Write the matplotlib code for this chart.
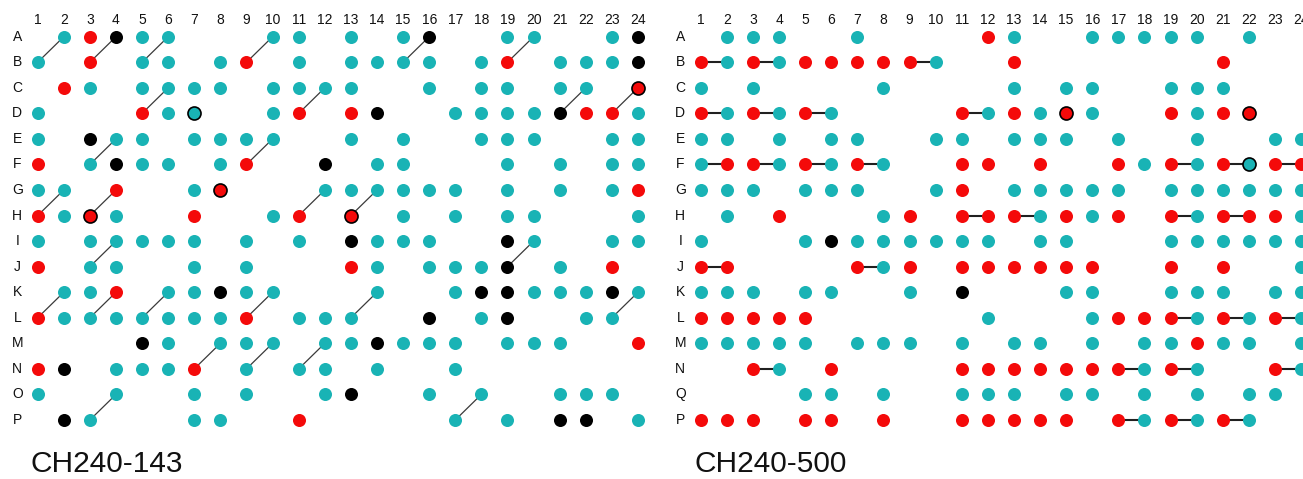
import matplotlib
matplotlib.use("Agg")
import matplotlib.pyplot as plt

# ---------------- data ----------------
columns = [str(c) for c in range(1, 25)]
rows_left = list("ABCDEFGHIJKLMNOP")
rows_right = list("ABCDEFGHIJKLMN") + ["Q", "P"]

# t = teal, r = red, k = black, upper case = outlined dot, '.' = empty
grid_left = [
    ".trktt...tt.t.tk..tt..tk",  # A
    "t.r.tt.tr.t.tttt.tr.tttk",  # B
    ".rt.tttt.tttt..t.tt.tt.R",  # C
    "t...rtT..tr.rk..ttttkrrt",  # D
    "t.ktt.tttt..t.t..ttt..tt",  # E
    "r.tktt.tr..k.tt...t.t.tt",  # F
    "tt.r..tR...tttttt.t.t.tr",  # G
    "rtRt..r..tr.R.t.t.tt...t",  # H
    "t.ttttt.t.t.kttt..kt..tt",  # I
    "r.tt..t.t...rt.tttk.t.r.",  # J
    ".ttr.ttktt...t..tkktttkt",  # K
    "rtttttttr.ttt..k.tk..tt.",  # L
    "....kt.ttt.ttkttt.ttt..r",  # M
    "rk.tttr.t.tt.t..t.......",  # N
    "t..t..t.t..tk..t.t..ttt.",  # O
    ".kt...tt..r.....t.t.kk.t",  # P
]

grid_right = [
    ".ttt..t....rt..ttttt.t..",  # A
    "rtrtrrrrrt..r.......r...",  # B
    "t.t....t....t.tt..ttt...",  # C
    "rtrtrt....rtrtRt..rtrR..",  # D
    "tt.t.tt..tt.ttt.t..t..tt",  # E
    "trrtrtrt..rr.r..rtrtrTrr",  # F
    "ttt.ttt..tr.ttttt.tttttt",  # G
    ".t.r...tr.rrrtrtr.rtrrrt",  # H
    "t...tktttttt.tt...tttttt",  # I
    "rr....rtr.rrrrrr..r.r..t",  # J
    "ttt.tt..t.k...tt..ttt.tt",  # K
    "rrrrr......t...trrrtrtrt",  # L
    "ttttt.ttt.t.tt.t.ttrtt.t",  # M
    "..rt.r....rrrrrrrtrt..rt",  # N
    "....tt.t..ttt.tt.t.t.tt.",  # Q
    "rrr.rr.r..rrrrr.rtrtrt..",  # P
]

# left panel: diagonal links (lower row, col) -> (row above, col + 1)
links_left = ["B1", "B3", "B5", "B9", "B15", "B19", "D5", "D11", "D21", "D23",
              "F3", "F9", "H1", "H3", "H11", "H13", "J3", "J19",
              "L1", "L3", "L5", "L9", "L13", "L23", "N7", "N9", "N11",
              "P3", "P17"]
# right panel: horizontal links (row, col) -> (row, col + 1)
links_right = ["B1", "B3", "B9", "D1", "D3", "D5", "D11",
               "F1", "F3", "F5", "F7", "F19", "F21", "F23",
               "H11", "H13", "H19", "H21", "J1", "J7",
               "L19", "L21", "L23", "N3", "N17", "N19", "N23",
               "P17", "P19", "P21"]

titles = ["CH240-143", "CH240-500"]

# ---------------- style ----------------
COLORS = {"t": "#19B3B5", "r": "#F40A0A", "k": "#000000"}
FONT = ["Liberation Sans", "DejaVu Sans"]
W, H = 1303, 479
col_px = 26.1
row_px = 25.55

fig = plt.figure(figsize=(W / 100, H / 100), dpi=100)
fig.patch.set_facecolor("white")


def make_axes(first_col_x):
    x0 = first_col_x - col_px
    y0 = 36.7 - row_px
    w = 25 * col_px
    h = 17 * row_px
    ax = fig.add_axes([x0 / W, 1 - (y0 + h) / H, w / W, h / H])
    ax.set_xlim(0, 25)
    ax.set_ylim(17, 0)
    ax.axis("off")
    return ax


def draw_panel(ax, grid, row_labels, links, diagonal):
    rowidx = {r: i + 1 for i, r in enumerate(row_labels)}
    # links
    for lk in links:
        r = rowidx[lk[0]]
        c = int(lk[1:])
        if diagonal:
            ax.plot([c, c + 1], [r, r - 1], color="#3a3a3a", lw=0.9,
                    zorder=1, solid_capstyle="butt")
        else:
            ax.plot([c, c + 1], [r, r], color="#202020", lw=1.5,
                    zorder=1, solid_capstyle="butt")
    # dots
    for key, col in COLORS.items():
        xs, ys, xo, yo = [], [], [], []
        for i, line in enumerate(grid):
            for j, ch in enumerate(line):
                if ch == key:
                    xs.append(j + 1); ys.append(i + 1)
                elif ch == key.upper():
                    xo.append(j + 1); yo.append(i + 1)
        ax.scatter(xs, ys, s=88, c=col, linewidths=0, zorder=3)
        if xo:
            ax.scatter(xo, yo, s=88, c=col, edgecolors="black",
                       linewidths=1.2, zorder=3)
    # labels
    for j, lab in enumerate(columns):
        ax.text(j + 1, 0.35, lab, ha="center", va="center", fontsize=10,
                family=FONT, color="#111111", clip_on=False)
    for i, lab in enumerate(row_labels):
        ax.text(0.22, i + 1, lab, ha="center", va="center", fontsize=10,
                family=FONT, color="#111111", clip_on=False)


axL = make_axes(37.7)
axR = make_axes(700.7)
draw_panel(axL, grid_left, rows_left, links_left, diagonal=True)
draw_panel(axR, grid_right, rows_right, links_right, diagonal=False)

fig.text(30 / W, 1 - 472 / H, titles[0], fontsize=21.5, family=FONT,
         ha="left", va="baseline", color="#111111")
fig.text(694 / W, 1 - 472 / H, titles[1], fontsize=21.5, family=FONT,
         ha="left", va="baseline", color="#111111")

fig.savefig("out.png", dpi=100, facecolor="white")
